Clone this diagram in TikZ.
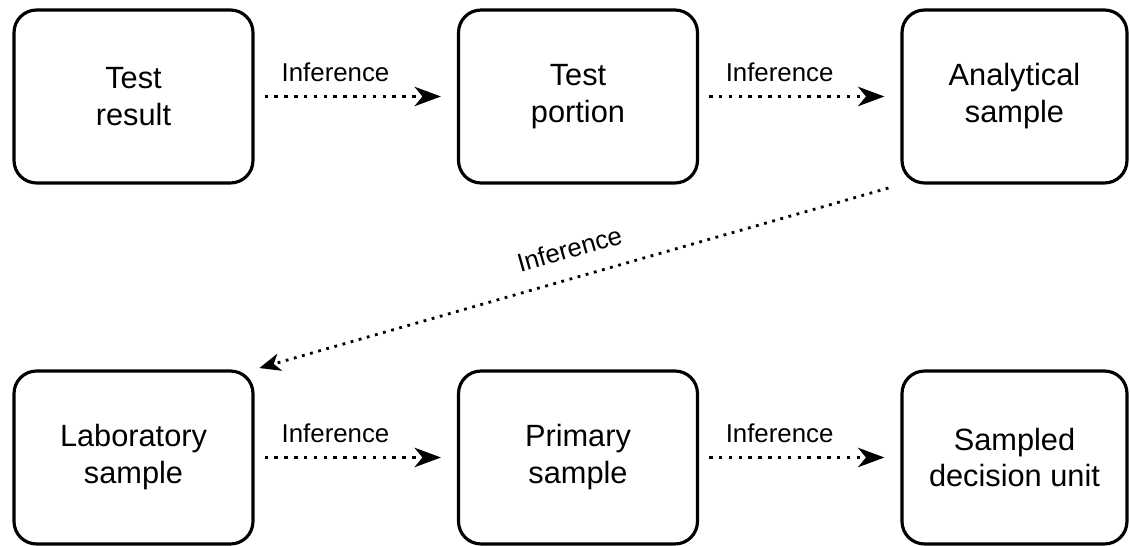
\documentclass[tikz,border=0pt]{standalone}
\usepackage{fontspec}
\setmainfont{Liberation Sans}
\usetikzlibrary{arrows.meta}
\begin{document}
\begin{tikzpicture}[x=0.02cm,y=-0.02cm,
    box/.style={draw,line width=1.8pt,rounded corners=0.45cm,minimum width=4.78cm,
      minimum height=3.46cm,align=center,font=\fontsize{17.5}{21}\selectfont},
    infer/.style={line width=2pt,dash pattern=on 2pt off 3.6pt,
      -{Stealth[length=15pt,width=11pt,inset=4.5pt]},shorten <=0.2cm,shorten >=0.32cm},
    lbl/.style={pos=0.4,above=4pt,font=\fontsize{14.7}{17}\selectfont}]
  \useasboundingbox (0,0) rectangle (1130,546);
  % top row
  \node[box] (res) at (133.5,96.5) {Test\\result};
  \node[box] (por) at (578,96.5) {Test\\portion};
  \node[box,minimum width=4.5cm] (ana) at (1014.5,96.5) {Analytical\\sample};
  % bottom row
  \node[box] (lab) at (133.5,457.5) {Laboratory\\sample};
  \node[box] (pri) at (578,457.5) {Primary\\sample};
  \node[box,minimum width=4.5cm] (dec) at (1014.5,457.5) {Sampled\\decision unit};
  % inferences
  \draw[infer] (res) -- (por) node[lbl] {Inference};
  \draw[infer] (por) -- (ana) node[lbl] {Inference};
  \draw[infer,line width=1.6pt,dash pattern=on 1.6pt off 3.2pt,shorten <=0.25cm,shorten >=0.1cm,
    -{Stealth[length=12pt,width=10pt,inset=3.5pt]}]
    (ana.south west) -- (lab.north east) node[lbl,midway,sloped,above=3pt] {Inference};
  \draw[infer] (lab) -- (pri) node[lbl] {Inference};
  \draw[infer] (pri) -- (dec) node[lbl] {Inference};
\end{tikzpicture}
\end{document}
